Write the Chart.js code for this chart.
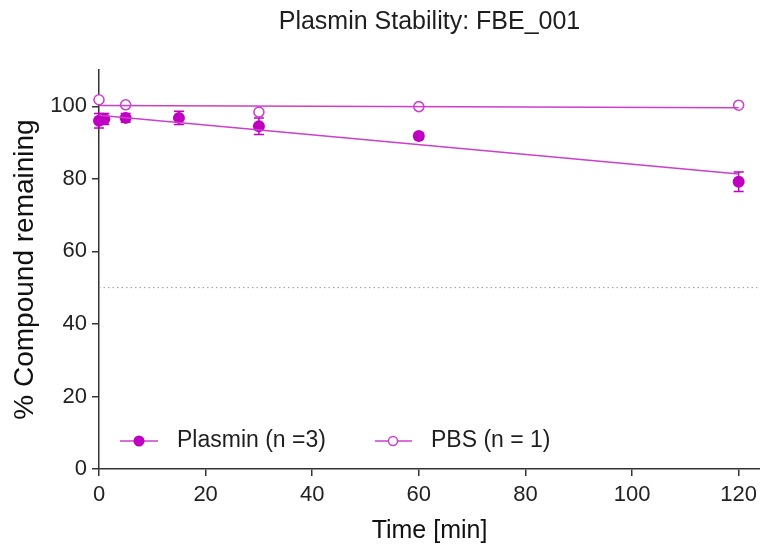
<!DOCTYPE html>
<html>
<head>
<meta charset="utf-8">
<script src="https://cdn.jsdelivr.net/npm/chart.js@4"></script>
<style>
  html, body { margin: 0; padding: 0; background: #fff; }
  #wrap { width: 760px; height: 546px; }
</style>
</head>
<body>
<div id="wrap"><canvas id="stab"></canvas></div>
<script>
// values
const timePlasmin = [0, 1, 5, 15, 30, 60, 120]
const plasminMean = [96.0, 96.5, 96.8, 96.8, 94.5, 91.8, 79.2]
const plasminSD = [2.0, 1.5, 1.2, 1.8, 2.3, 0.8, 2.7]
const timePBS = [0, 5, 30, 60, 120]
const pbsValue = [101.8, 100.4, 98.4, 99.9, 100.3]
const fitTime = [0, 120]
const plasminFit = [97.5, 81.3]
const pbsFit = [100.2, 99.6]
const halfLineTime = [0, 123.5]
const halfLineValue = [50, 50]
const xTicks = [0, 20, 40, 60, 80, 100, 120]
const yTicks = [0, 20, 40, 60, 80, 100]
const legendLabels = ['Plasmin (n =3)', 'PBS (n = 1)']

const MAG = '#c000c0'
const LINE = '#cc3fcc'
const AXIS = '#333333'
const FONT = '"Liberation Sans", Arial, sans-serif'

const pts = (xs, ys) => xs.map((x, i) => ({x: x, y: ys[i]}))

const errorBars = {
    id: 'errorBars',
    beforeDatasetsDraw(chart) {
        const {ctx, scales: {x, y}} = chart
        ctx.save()
        ctx.strokeStyle = MAG
        ctx.lineWidth = 1.5
        timePlasmin.forEach((t, i) => {
            const px = x.getPixelForValue(t)
            const top = y.getPixelForValue(plasminMean[i] + plasminSD[i])
            const bot = y.getPixelForValue(plasminMean[i] - plasminSD[i])
            ctx.beginPath()
            ctx.moveTo(px, top); ctx.lineTo(px, bot)
            ctx.moveTo(px - 5, top); ctx.lineTo(px + 5, top)
            ctx.moveTo(px - 5, bot); ctx.lineTo(px + 5, bot)
            ctx.stroke()
        })
        ctx.restore()
    }
}

const innerLegend = {
    id: 'innerLegend',
    afterDraw(chart) {
        const {ctx} = chart
        const yc = 441
        ctx.save()
        ctx.font = '23px ' + FONT
        ctx.textBaseline = 'middle'
        ctx.strokeStyle = LINE
        ctx.lineWidth = 1.5
        // plasmin
        ctx.beginPath(); ctx.moveTo(120, yc); ctx.lineTo(158, yc); ctx.stroke()
        ctx.beginPath(); ctx.arc(139, yc, 5.5, 0, Math.PI * 2)
        ctx.fillStyle = MAG; ctx.fill()
        ctx.fillStyle = '#1e1e1e'
        ctx.fillText(legendLabels[0], 177, yc)
        // PBS
        ctx.beginPath(); ctx.moveTo(375, yc); ctx.lineTo(412, yc); ctx.stroke()
        ctx.beginPath(); ctx.arc(393, yc, 4.5, 0, Math.PI * 2)
        ctx.fillStyle = '#fff'; ctx.fill(); ctx.stroke()
        ctx.fillStyle = '#1e1e1e'
        ctx.fillText(legendLabels[1], 431, yc)
        ctx.restore()
    }
}

new Chart(document.getElementById('stab'), {
    type: 'scatter',
    data: {
        datasets: [
            {
                data: pts(halfLineTime, halfLineValue),
                showLine: true,
                borderColor: '#9a9a9a',
                borderWidth: 1,
                borderDash: [1.5, 3],
                pointRadius: 0
            },
            {
                data: pts(fitTime, plasminFit),
                showLine: true,
                borderColor: LINE,
                borderWidth: 1.5,
                pointRadius: 0
            },
            {
                data: pts(fitTime, pbsFit),
                showLine: true,
                borderColor: LINE,
                borderWidth: 1.5,
                pointRadius: 0
            },
            {
                label: legendLabels[0],
                data: pts(timePlasmin, plasminMean),
                pointRadius: 6,
                pointBackgroundColor: MAG,
                pointBorderColor: MAG,
                pointBorderWidth: 0,
                clip: false
            },
            {
                label: legendLabels[1],
                data: pts(timePBS, pbsValue),
                pointRadius: 5,
                pointBackgroundColor: '#fff',
                pointBorderColor: '#cc44cc',
                pointBorderWidth: 1.6,
                clip: false
            }
        ]
    },
    options: {
        responsive: true,
        maintainAspectRatio: false,
        animation: false,
        layout: { padding: 0, autoPadding: false },
        plugins: {
            legend: { display: false },
            tooltip: { enabled: false },
            title: {
                display: true,
                fullSize: false,
                text: 'Plasmin Stability: FBE_001',
                color: '#1e1e1e',
                font: { family: FONT, size: 25, weight: 'normal' },
                padding: { top: 7, bottom: 33 }
            }
        },
        scales: {
            x: {
                type: 'linear',
                min: 0,
                max: 124,
                afterFit: s => { s.height = 77; s.paddingLeft = 0; s.paddingRight = 0 },
                afterBuildTicks: s => { s.ticks = xTicks.map(v => ({value: v})) },
                grid: { drawOnChartArea: false, drawTicks: true, tickLength: 7, color: AXIS, lineWidth: 1.5 },
                border: { display: true, color: AXIS, width: 1.5 },
                ticks: { color: '#222', padding: 6, font: { family: FONT, size: 22 } },
                title: {
                    display: true,
                    text: 'Time [min]',
                    color: '#111',
                    font: { family: FONT, size: 25 },
                    padding: 0
                }
            },
            y: {
                min: 0,
                max: 110,
                afterFit: s => { s.width = 99 },
                afterBuildTicks: s => { s.ticks = yTicks.map(v => ({value: v})) },
                grid: { drawOnChartArea: false, drawTicks: true, tickLength: 7, color: AXIS, lineWidth: 1.5 },
                border: { display: true, color: AXIS, width: 1.5 },
                ticks: { color: '#222', padding: 5, font: { family: FONT, size: 22 } },
                title: {
                    display: true,
                    text: '% Compound remaining',
                    color: '#111',
                    font: { family: FONT, size: 28 },
                    padding: 8
                }
            }
        }
    },
    plugins: [errorBars, innerLegend]
})
</script>
</body>
</html>
